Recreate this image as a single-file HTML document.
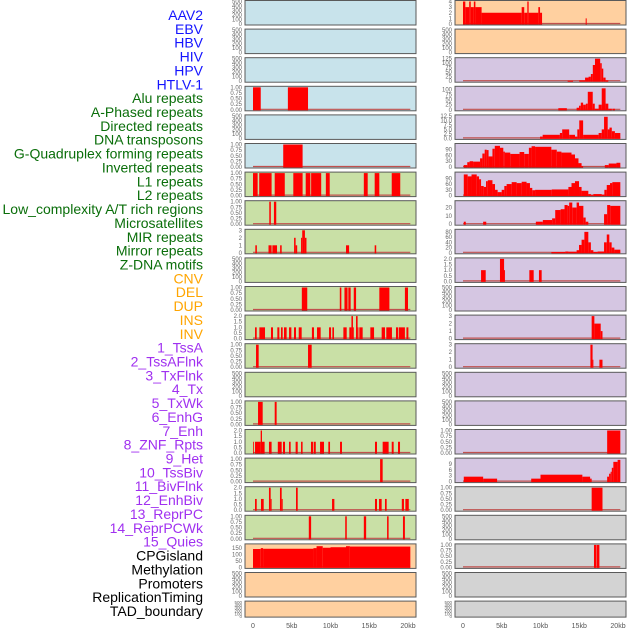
<!DOCTYPE html>
<html><head><meta charset="utf-8"><style>
html,body{margin:0;padding:0;background:#fff;width:630px;height:630px;overflow:hidden}
svg{display:block}
</style></head><body>
<svg id="chart" width="630" height="630" xmlns="http://www.w3.org/2000/svg" font-family="Liberation Sans, sans-serif"></svg>
<script>
// ---- labels ----
const trackLabels = ["AAV2","EBV","HBV","HIV","HPV","HTLV-1","Alu repeats","A-Phased repeats","Directed repeats","DNA transposons","G-Quadruplex forming repeats","Inverted repeats","L1 repeats","L2 repeats","Low_complexity A/T rich regions","Microsatellites","MIR repeats","Mirror repeats","Z-DNA motifs","CNV","DEL","DUP","INS","INV","1_TssA","2_TssAFlnk","3_TxFlnk","4_Tx","5_TxWk","6_EnhG","7_Enh","8_ZNF_Rpts","9_Het","10_TssBiv","11_BivFlnk","12_EnhBiv","13_ReprPC","14_ReprPCWk","15_Quies","CPGisland","Methylation","Promoters","ReplicationTiming","TAD_boundary"];
const labelGroups = ["virus","virus","virus","virus","virus","virus","rep","rep","rep","rep","rep","rep","rep","rep","rep","rep","rep","rep","rep","sv","sv","sv","sv","sv","hmm","hmm","hmm","hmm","hmm","hmm","hmm","hmm","hmm","hmm","hmm","hmm","hmm","hmm","hmm","other","other","other","other","other"];
const xTicks = [0,5,10,15,20];
const xTickLabels = ["0","5kb","10kb","15kb","20kb"];

// ---- track data: [startKb, endKb, value] ----
const dAAV2=[],dEBV=[],dHBV=[],dHPV=[],dDNA=[],dL2=[],dDEL=[],dDUP=[],dINV=[],d4=[],d6=[],d13=[],d14=[],d15=[];
const dHIV=[[0,1.0,1],[4.5,7.1,1]];
const dHTLV=[[3.9,6.4,1]];
const dAlu=[[0,0.6,1],[0.8,2.4,1],[2.8,4.1,1],[5.2,6.4,1],[6.8,7.4,1],[7.5,8.8,1],[9.4,9.9,1],[14.3,14.8,1],[15.7,16.3,1],[17.9,19.0,1]];
const dAPh=[[2.1,2.3,1],[2.7,3.0,1]];
const dDir=[[0.3,0.5,1],[2.0,2.4,1],[2.5,3.1,1],[3.5,3.7,1],[5.3,5.5,2],[5.5,5.7,1],[6.2,6.35,2],[6.35,6.7,3],[6.7,6.9,2],[12.0,12.4,1],[15.7,15.9,1]];
const dGQ=[[6.3,7.0,1],[11.2,11.4,1],[11.8,12.2,1],[12.3,12.6,1],[13.0,13.3,1],[16.3,17.6,1],[19.6,20.0,1]];
const dInv=[[0.26,0.48,1],[0.82,1.55,1],[2.32,2.58,1],[3.14,3.4,1],[3.61,3.83,1],[4.0,4.34,1],[4.65,4.95,1],[5.29,5.55,1],[5.9,6.28,1],[7.6,7.87,1],[8.26,8.73,1],[9.81,10.07,1],[10.24,10.45,1],[11.66,12.09,1],[12.43,12.7,1],[12.7,12.9,2],[12.9,12.99,1],[13.29,13.5,2],[13.5,13.59,1],[13.72,14.15,1],[15.14,15.62,1],[16.6,17.03,1],[17.2,17.93,1],[18.45,18.71,1],[18.8,19.6,1],[19.8,20.05,1]];
const dL1=[[0.39,0.73,1],[7.1,7.57,1]];
const dLow=[[0.65,1.25,1],[2.8,3.05,1]];
const dMic=[[0,0.1,1],[0.26,0.99,1],[0.99,1.16,2],[1.16,1.5,1],[2.06,2.4,1],[3.2,3.7,1],[3.87,4.13,1],[4.65,4.86,1],[5.5,5.77,1],[6.2,6.4,1],[7.48,7.74,1],[7.83,8.1,1],[8.65,9.16,1],[9.72,9.94,1],[11.23,11.48,1],[15.74,16.0,1],[16.73,17.5,1],[17.9,18.15,1],[18.71,18.97,1]];
const dMIR=[[16.4,16.73,1]];
const dMirror=[[0.26,0.48,1],[1.03,1.38,1],[2.06,2.28,2],[2.28,2.4,1],[3.48,3.7,2],[3.7,3.83,1],[5.55,5.77,2],[10.2,10.5,1],[15.74,16.0,1],[16.26,16.6,1],[17.03,17.25,1],[19.2,19.48,1],[19.66,20.1,1]];
const dZ=[[7.2,7.5,1],[11.9,12.1,1],[14.3,14.6,1],[17.3,17.5,1],[19.35,19.6,1]];
const dCNV=[[0,1.0,143],[1.0,1.3,150],[1.3,7.8,145],[7.8,8.2,150],[8.2,9.0,165],[9.0,10.0,153],[10.0,12.0,157],[12.0,12.5,165],[12.5,20.3,162]];
const dINS=[[0,0.3,4],[0.3,0.8,3],[0.8,1.0,4],[1.0,1.4,3],[1.4,1.6,4],[1.6,2.4,3],[2.4,7.57,2],[7.57,7.9,3],[7.9,8.3,2],[8.3,8.47,4],[8.47,9.72,2],[9.72,9.94,3],[9.94,10.2,2],[15.83,15.96,1]];
const d1=[[13.5,14.2,3],[15.0,15.75,5],[15.75,16.2,20],[16.2,16.5,25],[16.5,16.75,40],[16.75,17.03,90],[17.03,17.7,125],[17.7,17.9,100],[17.9,18.1,70],[18.1,18.4,20],[18.4,18.75,5]];
const d2=[[12.3,13.4,8],[14.66,14.97,10],[14.97,15.2,20],[15.2,15.5,35],[15.5,15.85,25],[15.85,16.1,30],[16.1,16.74,88],[16.74,17.0,30],[17.0,17.5,5],[17.5,17.9,25],[17.9,18.4,105],[18.4,18.75,30],[18.75,19.2,5],[19.3,19.6,5]];
const d3=[[9.94,10.28,1],[10.28,12.5,2],[12.5,12.8,3],[12.8,13.7,5],[13.7,14.45,2],[14.45,14.75,1],[14.75,15.0,5],[15.0,15.5,10],[15.5,17.5,2],[17.5,17.9,3],[17.9,18.2,5],[18.2,18.67,12],[18.67,18.9,5],[18.9,19.2,6],[19.2,19.6,4],[19.6,20.3,3]];
const d5=[[0.1,0.55,10],[0.55,0.85,25],[0.85,1.3,30],[1.3,2.2,28],[2.2,2.5,45],[2.5,2.8,70],[2.8,3.05,90],[3.05,3.3,88],[3.3,3.8,55],[3.8,4.1,95],[4.1,4.77,110],[4.77,5.2,100],[5.2,5.4,80],[5.4,6.1,75],[6.1,7.3,68],[7.3,7.9,78],[7.9,8.5,68],[8.5,8.85,100],[8.85,9.3,108],[9.3,11.4,105],[11.4,12.1,90],[12.1,12.7,80],[12.7,14.0,75],[14.0,14.45,65],[14.45,14.9,45],[14.9,15.3,20],[15.3,15.5,5],[18.3,18.8,10],[18.8,19.8,18],[19.8,20.3,22]];
const d7=[[0.1,0.6,110],[0.6,1.1,100],[1.1,1.77,110],[1.77,2.07,100],[2.07,2.33,85],[2.33,2.67,50],[2.67,2.97,45],[2.97,3.2,75],[3.2,3.8,80],[3.8,4.13,60],[4.13,4.47,30],[4.47,4.99,18],[4.99,5.33,30],[5.33,5.63,50],[5.63,6.28,60],[6.28,6.92,70],[6.92,7.57,65],[7.57,8.2,72],[8.2,8.64,65],[8.64,8.94,40],[8.94,9.3,28],[9.3,11.45,30],[11.45,13.6,32],[13.6,14.0,45],[14.0,14.45,65],[14.45,14.97,75],[14.97,15.3,45],[15.3,16.17,25],[16.17,16.5,8],[16.5,16.82,2],[16.82,17.9,8],[17.9,18.24,5],[18.24,18.55,30],[18.55,18.97,55],[18.97,19.27,65],[19.27,20.3,70]];
const d8=[[0.1,0.36,3],[2.6,3.0,3],[9.4,10.3,3],[10.3,11.5,5],[11.5,11.9,7],[11.9,12.6,17],[12.6,13.1,18],[13.1,13.5,23],[13.5,13.7,22],[13.7,14.1,26],[14.1,14.66,20],[14.66,14.97,26],[14.97,15.53,22],[15.53,15.83,8],[15.83,16.17,3],[18.2,18.6,12],[18.6,19.0,23],[19.0,20.3,22]];
const d9=[[11.4,13.2,3],[13.2,13.6,5],[13.6,14.66,4],[14.66,14.97,10],[14.97,15.3,30],[15.3,15.66,50],[15.66,16.17,80],[16.17,16.5,40],[16.5,16.82,10],[16.82,17.37,3],[17.37,18.2,5],[18.2,18.55,40],[18.55,18.88,70],[18.88,19.18,40],[19.18,19.53,20],[19.53,20.3,12]];
const d10=[[2.33,2.93,1],[4.77,5.3,2],[5.3,5.42,1],[8.56,9.12,1],[9.8,10.15,1]];
const d12=[[16.6,16.95,3],[16.95,17.77,2],[17.77,18.0,1]];
const d13b=[[16.44,16.72,3],[16.72,16.82,1],[17.6,18.0,1]];
const dHet=[[18.6,20.3,1]];
const dBiv=[[0.1,2.6,2.5],[2.6,4.4,1.5],[8.8,10.0,1.5],[10.0,15.4,3.5],[15.4,16.4,2.5],[16.4,16.6,1.5],[18.6,18.85,2.5],[18.85,19.05,4],[19.05,19.2,5],[19.2,19.4,7],[19.4,19.95,10],[19.95,20.3,11]];
const dBivFlnk=[[16.6,18.0,1]];
const dCPG=[[16.9,17.2,1],[17.25,17.6,1]];

// y-axis tick sets
const ticks500=[0,100,200,300,400,500], tl500=["0","100","200","300","400","500"];
const ticks1=[0,0.25,0.5,0.75,1], tl1=["0.00","0.25","0.50","0.75","1.00"];
const ticks2=[0,0.5,1,1.5,2], tl2=["0.0","0.5","1.0","1.5","2.0"];
const ticks3=[0,1,2,3], tl3=["0","1","2","3"];
const ticks4=[0,1,2,3,4], tl4=["0","1","2","3","4"];

// column, row, data, ymax, ticks, tickLabels, background
const tracks = [
 [0,0,dAAV2,500,ticks500,tl500,"blue"],[0,1,dEBV,500,ticks500,tl500,"blue"],[0,2,dHBV,500,ticks500,tl500,"blue"],
 [0,3,dHIV,1,ticks1,tl1,"blue"],[0,4,dHPV,500,ticks500,tl500,"blue"],[0,5,dHTLV,1,ticks1,tl1,"blue"],
 [0,6,dAlu,1,ticks1,tl1,"green"],[0,7,dAPh,1,ticks1,tl1,"green"],[0,8,dDir,3,ticks3,tl3,"green"],
 [0,9,dDNA,500,ticks500,tl500,"green"],[0,10,dGQ,1,ticks1,tl1,"green"],[0,11,dInv,2,ticks2,tl2,"green"],
 [0,12,dL1,1,ticks1,tl1,"green"],[0,13,dL2,500,ticks500,tl500,"green"],[0,14,dLow,1,ticks1,tl1,"green"],
 [0,15,dMic,2,ticks2,tl2,"green"],[0,16,dMIR,1,ticks1,tl1,"green"],[0,17,dMirror,2,ticks2,tl2,"green"],
 [0,18,dZ,1,ticks1,tl1,"green"],[0,19,dCNV,175,[0,50,100,150],["0","50","100","150"],"orange"],
 [0,20,dDEL,500,ticks500,tl500,"orange"],[0,21,dDUP,500,ticks500,tl500,"orange"],
 [1,0,dINS,4,ticks4,tl4,"orange"],[1,1,dINV,500,ticks500,tl500,"orange"],
 [1,2,d1,125,[0,25,50,75,100,125],["0","25","50","75","100","125"],"purple"],
 [1,3,d2,110,[0,25,50,75,100],["0","25","50","75","100"],"purple"],
 [1,4,d3,12.5,[0,2.5,5,7.5,10,12.5],["0.0","2.5","5.0","7.5","10.0","12.5"],"purple"],
 [1,5,d5,117,[0,30,60,90],["0","30","60","90"],"purple"],
 [1,6,d7,117,[0,30,60,90],["0","30","60","90"],"purple"],
 [1,7,d8,27,[0,10,20],["0","10","20"],"purple"],
 [1,8,d9,86,[0,20,40,60,80],["0","20","40","60","80"],"purple"],
 [1,9,d10,2,ticks2,tl2,"purple"],[1,10,d4,500,ticks500,tl500,"purple"],
 [1,11,d12,3,ticks3,tl3,"purple"],[1,12,d13b,3,ticks3,tl3,"purple"],
 [1,13,d13,500,ticks500,tl500,"purple"],[1,14,d14,500,ticks500,tl500,"purple"],
 [1,15,dHet,1,ticks1,tl1,"purple"],[1,16,dBiv,11.4,[0,3,6,9],["0","3","6","9"],"purple"],
 [1,17,dBivFlnk,1,ticks1,tl1,"gray"],[1,18,d15,500,ticks500,tl500,"gray"],
 [1,19,dCPG,1,ticks1,tl1,"gray"],[1,20,d6,500,ticks500,tl500,"gray"],[1,21,d6,500,ticks500,tl500,"gray"]
];

const NS="http://www.w3.org/2000/svg";
const svg=document.getElementById('chart');
const bgColors={blue:"#c8e3eb",green:"#c9e0a6",orange:"#ffd0a0",purple:"#d5c6e2",gray:"#d3d3d3"};
const labelColors={virus:"#1414ff",rep:"#0a6e0a",sv:"#ffa500",hmm:"#a030f0",other:"#000"};
const colX=[245,455], panelW=171, zeroX=[253,463], pxPerKb=7.75;
function xScale(col,kb){return zeroX[col]+kb*pxPerKb;}
function rowTop(r){return 0.5+r*28.6;}
function rowH(r){return r===21?16:24.5;}
function mk(tag,attrs){const e=document.createElementNS(NS,tag);for(const k in attrs)e.setAttribute(k,attrs[k]);return e;}

// labels
trackLabels.forEach((t,i)=>{
  const e=mk('text',{x:203,y:15+i*13.86+5,'text-anchor':'end','font-size':14,fill:labelColors[labelGroups[i]]});
  e.textContent=t;
  
  
  svg.appendChild(e);
});

tracks.forEach((tr,ti)=>{
  const [col,row,data,ymax,yt,ytl,bg]=tr;
  const top=rowTop(row),h=rowH(row),x0=colX[col];
  const g=mk('g',{});
  
  
  svg.appendChild(g);
  const rect=mk('rect',{x:x0,y:top,width:panelW,height:h,fill:bgColors[bg],stroke:"#5a5a5a",'stroke-width':1});
  
  
  g.appendChild(rect);
  const yb=top+h-1, ih=h-2;
  const yScale=v=>yb-v/ymax*ih;
  if(data.length){
    const base=mk('line',{x1:xScale(col,0),x2:xScale(col,20.3),y1:yb-0.5,y2:yb-0.5,stroke:"#c0504d",'stroke-width':1.2});
    
    
    g.appendChild(base);
  }
  data.forEach(d=>{
    const xa=xScale(col,Math.max(0,d[0])), xb=xScale(col,d[1]);
    const y=yScale(d[2]);
    const b=mk('rect',{x:xa,y:y,width:Math.max(0.8,xb-xa),height:yb-y+0.5,fill:"#ff0000"});
    
    
    g.appendChild(b);
  });
  yt.forEach((v,k)=>{
    const t=mk('text',{x:x0-3,y:yScale(v)+2,'text-anchor':'end','font-size':h<20?4.5:6,fill:"#666"});
    t.textContent=ytl[k];
    
    
    g.appendChild(t);
  });
});

// x-axis tick labels
[0,1].forEach(col=>{
  xTicks.forEach((v,k)=>{
    const t=mk('text',{x:xScale(col,v),y:628,'text-anchor':'middle','font-size':7,fill:"#555"});
    t.textContent=xTickLabels[k];
    
    
    svg.appendChild(t);
  });
});
</script>
</body></html>
